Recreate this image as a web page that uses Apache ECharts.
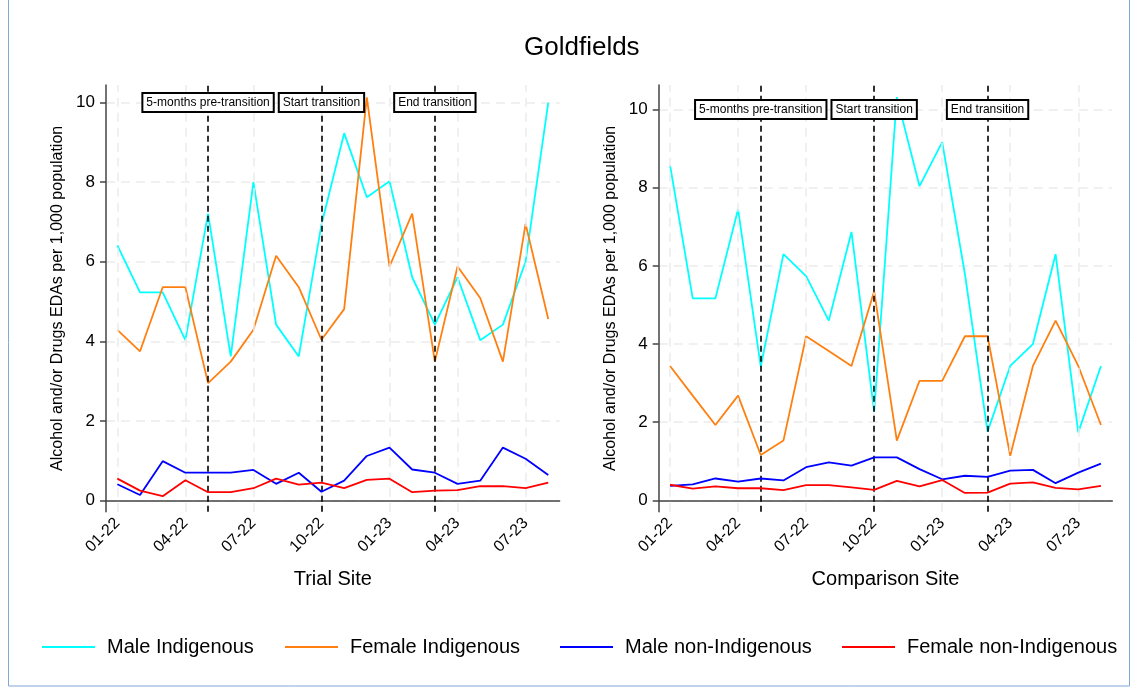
<!DOCTYPE html>
<html>
<head>
<meta charset="utf-8">
<script src="https://cdn.jsdelivr.net/npm/echarts@6/dist/echarts.min.js"></script>
<style>html,body{margin:0;padding:0;background:#fff}</style>
</head>
<body>
<div id="chart" style="width:1133px;height:689px"></div>
<script>
var months = ['01-22','02-22','03-22','04-22','05-22','06-22','07-22','08-22','09-22','10-22',
              '11-22','12-22','01-23','02-23','03-23','04-23','05-23','06-23','07-23','08-23'];
var tickIdx = [0, 3, 6, 9, 12, 15, 18];
var yTicks = [0, 2, 4, 6, 8, 10];
var seriesNames = ['Male Indigenous', 'Female Indigenous', 'Male non-Indigenous', 'Female non-Indigenous'];

// trial site
var trialMaleInd   = [6.41,5.23,5.23,4.03,7.21,3.62,8.00,4.42,3.62,6.93,9.23,7.62,8.02,5.61,4.42,5.61,4.03,4.42,6.00,10.00];
var trialFemaleInd = [4.29,3.75,5.36,5.36,2.95,3.49,4.29,6.15,5.36,4.04,4.81,10.13,5.88,7.21,3.49,5.88,5.09,3.49,6.95,4.56];
var trialMaleNon   = [0.41,0.14,0.99,0.70,0.70,0.70,0.77,0.42,0.70,0.22,0.50,1.12,1.33,0.78,0.70,0.42,0.50,1.33,1.05,0.64];
var trialFemaleNon = [0.55,0.25,0.11,0.51,0.21,0.21,0.31,0.55,0.40,0.45,0.31,0.52,0.55,0.21,0.25,0.26,0.36,0.36,0.31,0.45];

// comparison site
var compMaleInd   = [8.58,5.17,5.17,7.45,3.42,6.30,5.74,4.60,6.87,2.27,10.32,8.04,9.17,5.80,1.76,3.44,4.00,6.30,1.74,3.44];
var compFemaleInd = [3.44,2.68,1.93,2.68,1.16,1.53,4.20,3.82,3.44,5.35,1.53,3.06,3.06,4.20,4.20,1.14,3.44,4.60,3.44,1.93];
var compMaleNon   = [0.37,0.41,0.56,0.48,0.56,0.51,0.85,0.97,0.89,1.10,1.10,0.80,0.54,0.63,0.60,0.76,0.78,0.44,0.71,0.94];
var compFemaleNon = [0.40,0.30,0.36,0.31,0.31,0.26,0.39,0.39,0.33,0.27,0.50,0.36,0.52,0.19,0.20,0.43,0.46,0.32,0.28,0.37];

var events = [['05-22', '5-months pre-transition'], ['10-22', 'Start transition'], ['03-23', 'End transition']];
var colors = ['#00ffff', '#ff8010', '#0000ff', '#ff0000'];

var chart = echarts.init(document.getElementById('chart'));
var font = 'Liberation Sans, Arial, sans-serif';

function xAxisFor(idx, name) {
    return {
        type: 'category', gridIndex: idx, data: months, boundaryGap: true,
        name: name, nameLocation: 'middle', nameGap: 58,
        nameTextStyle: {fontSize: 20, color: '#000', fontFamily: font},
        axisLine: {lineStyle: {color: '#444', width: 1.5}},
        axisTick: {customValues: tickIdx, length: 6, lineStyle: {color: '#444', width: 1.5}},
        axisLabel: {customValues: tickIdx, rotate: 45, fontSize: 16, color: '#000', fontFamily: font, margin: 9},
        splitLine: {show: false}
    };
}
function yAxisFor(idx, min, max) {
    return {
        type: 'value', gridIndex: idx, min: min, max: max,
        name: 'Alcohol and/or Drugs EDAs per 1,000 population', nameLocation: 'middle', nameGap: 40,
        nameTextStyle: {fontSize: 16, color: '#000', fontFamily: font},
        axisLine: {show: true, lineStyle: {color: '#444', width: 1.5}},
        axisTick: {show: true, customValues: yTicks, length: 6, lineStyle: {color: '#444', width: 1.5}},
        axisLabel: {customValues: yTicks, fontSize: 17, color: '#000', fontFamily: font, margin: 11},
        splitLine: {show: true, lineStyle: {color: '#ebebeb', type: [9, 6], width: 1.5}}
    };
}

// vertical grid lines at the labelled months
function gridSeries(idx) {
    return {
        name: 'grid' + idx, type: 'line', xAxisIndex: idx, yAxisIndex: idx, data: [], z: 1,
        markLine: {
            silent: true, symbol: 'none', label: {show: false}, animation: false,
            lineStyle: {color: '#ebebeb', type: [9, 6], width: 1.5},
            data: tickIdx.map(function (i) { return {xAxis: months[i]}; })
        }
    };
}

function makeSeries(idx, data) {
    return data.map(function (d, k) {
        var s = {
            name: seriesNames[k], type: 'line', xAxisIndex: idx, yAxisIndex: idx,
            data: d, symbol: 'none', color: colors[k],
            lineStyle: {width: 1.8, color: colors[k]}, z: 3 + k
        };
        if (k === 0) {
            s.markLine = {
                silent: true, symbol: 'none', label: {show: false},
                lineStyle: {color: '#000', type: [6, 4], width: 1.6},
                data: events.map(function (e) { return {xAxis: e[0]}; })
            };
            s.markPoint = {
                silent: true, symbol: 'rect', symbolSize: 0,
                label: {
                    show: true, position: 'inside', fontSize: 12, color: '#000', fontFamily: font,
                    backgroundColor: '#fff', borderColor: '#000', borderWidth: 2, padding: [3, 3, 2, 3],
                    formatter: function (p) { return p.name; }
                },
                data: events.map(function (e) { return {name: e[1], coord: [e[0], 10]}; })
            };
        }
        return s;
    });
}

var legends = seriesNames.map(function (n, k) {
    return {
        data: [n], left: [42, 285, 560, 842][k], top: 637, padding: 0,
        icon: 'rect', itemWidth: 53, itemHeight: 2,
        textStyle: {fontSize: 20, color: '#000', fontFamily: font, padding: [0, 0, 0, 7]},
        selectedMode: false
    };
});

chart.setOption({
    backgroundColor: '#fff',
    animation: false,
    title: {text: 'Goldfields', left: 519, top: 30,
        textStyle: {fontSize: 26, fontWeight: 'normal', color: '#000', fontFamily: font}},
    legend: legends,
    grid: [
        {left: 106, top: 85, width: 453.6, height: 426.7},
        {left: 658.7, top: 85, width: 453.6, height: 426.7}
    ],
    xAxis: [xAxisFor(0, 'Trial Site'), xAxisFor(1, 'Comparison Site')],
    yAxis: [yAxisFor(0, -0.28, 10.44), yAxisFor(1, -0.29, 10.63)],
    graphic: [{
        type: 'rect', silent: true, z: -1,
        shape: {x: 8.5, y: -2, width: 1121, height: 688},
        style: {fill: 'none', stroke: '#7fa9d8', lineWidth: 1}
    }],
    series: [gridSeries(0), gridSeries(1)]
        .concat(makeSeries(0, [trialMaleInd, trialFemaleInd, trialMaleNon, trialFemaleNon]))
        .concat(makeSeries(1, [compMaleInd, compFemaleInd, compMaleNon, compFemaleNon]))
});
</script>
</body>
</html>
